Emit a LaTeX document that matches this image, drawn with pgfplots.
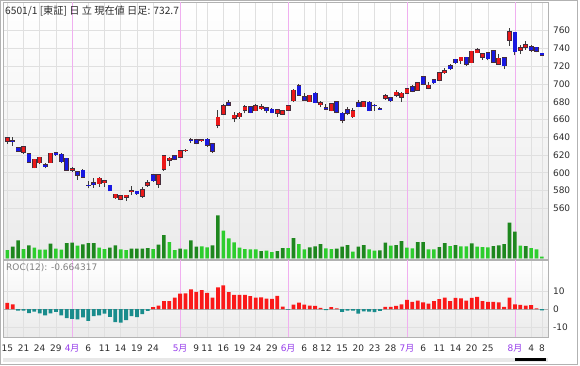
\documentclass[border=0pt]{standalone}
\usepackage{pgfplots}
\pgfplotsset{compat=1.18}
\usepackage{pgfplotstable}
\usepackage{fontspec}
\setmainfont{DejaVu Sans}
\newfontfamily\cjk{Noto Sans CJK JP}
\definecolor{redc}{RGB}{235,25,25}
\definecolor{bluec}{RGB}{25,25,225}
\definecolor{outc}{RGB}{70,45,60}
\definecolor{wickc}{RGB}{60,60,60}
\definecolor{vold}{RGB}{30,135,30}
\definecolor{voll}{RGB}{45,205,45}
\definecolor{rocr}{RGB}{250,25,25}
\definecolor{roct}{RGB}{25,140,140}
\definecolor{pinkc}{RGB}{240,175,240}
\definecolor{monc}{RGB}{150,60,235}
\definecolor{gridc}{RGB}{224,224,224}
\definecolor{txtc}{RGB}{45,45,45}

\pgfplotstableread{
i o h l c
0 635.8 640 632.4 639.2
1 636 640 630 635.5
2 628.3 629.4 623.4 624.5
3 623 630 621.5 629
4 621.2 622 611 612.2
5 605.7 616 605 615.2
6 611.4 618 610 617.4
7 608.8 611 605 606.9
8 611.4 622.5 611 622
9 622.6 623.5 619 620.4
10 620.8 622 611 612.6
11 616.3 617 602 603.2
12 603.2 606.2 601.2 604.6
13 600.9 601.5 592 597.5
14 602.8 604 594 595.3
15 586 591 582.5 585.8
16 588.8 594 583 586.6
17 587.8 595.5 584 593.8
18 588.9 592 584.5 590.8
19 585.9 586.5 579 579.8
20 572 576.5 571 575.8
21 570.1 575 569 574.2
22 572.7 575.5 568 574.6
23 579.2 585 575.5 579.5
24 579.2 580 575.5 576.6
25 573.9 583.5 572 580.6
26 585.9 592 584.5 588.5
27 597.5 598.5 590 591.1
28 587.4 599 583 597.9
29 604 620 602 619
30 614 617.5 608 616.3
31 619 620 614 615.2
32 617.4 625.5 616.5 624.5
33 624.8 627 623.5 625.3
34 636.9 639 633.5 636.3
35 637.3 638.5 632 633.5
36 636.4 638 635 636.9
37 637.7 639 629 631
38 632.4 633 622 624.5
39 653.8 670.7 650 662.5
40 666.2 677 665 675.6
41 679 681.5 675 676
42 661.3 668.5 657 664.7
43 663.2 668.5 661 667
44 670.7 676 667 674.5
45 674.1 675 667 667.7
46 670 677 669 675.6
47 672.2 677 670.5 674.5
48 673 674 667.5 670
49 671.5 672.5 667 667.7
50 667 671.5 663 670.7
51 666.2 670 665 669.6
52 670.7 676 670 675.2
53 681.2 694 680 692.9
54 698.1 699.5 686.5 687.3
55 685.7 690 681 681.6
56 680.1 688 679.5 687.3
57 689.5 691 678.5 679
58 676.7 681 674 679
59 673.3 678 670.5 671.8
60 670 679 669 677.5
61 679.7 681 667 668.1
62 667 668 655.5 659.5
63 670.7 674.5 665 667
64 663.2 672.5 662 670
65 679 681.5 674 674.5
66 674.5 680.5 674 679.7
67 679.4 680.5 669 670
68 675.8 677 670 675.4
69 672 673.5 670.5 671.5
70 683.9 688.5 682 686.8
71 684.2 685.5 680 681.2
72 687.6 693 685 690.6
73 685 690.5 680 689.5
74 689.5 695 689 694.3
75 696.9 698.5 690.5 691.8
76 693.2 702.5 692.5 701.4
77 708.2 709.5 699.5 700
78 695.1 702.5 694 698.5
79 704.5 705.5 700 701.4
80 704.5 713.5 703 712.7
81 712.7 718.5 711.5 715
82 720.3 723 715.5 717.2
83 727.8 728.5 723 724
84 726.2 730.7 722.5 730
85 730 730.7 720.5 722.5
86 724 737.5 723.5 736.8
87 735.3 740 734.5 738.3
88 730 735 727.5 733.8
89 735.3 736.5 726.5 728.5
90 737.5 738 723.5 724.8
91 722.5 733.5 721.8 729
92 729.3 730.4 716.8 720.6
93 749.5 762.7 742.8 758.9
94 758.2 759 732.3 736.4
95 738.3 743.5 733.7 740.9
96 741.3 748.3 738.3 744.2
97 742 743.5 736 738.3
98 741.3 742 735.5 736.8
99 734.5 735 732.3 732.7
}\candles

\pgfplotstableread{
i v d r
0 8.3 0 3.5
1 11.6 1 2.6
2 18 1 -0.7
3 9.3 0 -0.7
4 13 1 -2.1
5 10.6 0 -1.3
6 8.6 0 -2.3
7 8.6 0 -3.4
8 14.6 1 -2.2
9 9.6 0 -1.4
10 8.6 0 -3.3
11 15.3 1 -4.9
12 15.6 1 -5.3
13 12.6 0 -5.5
14 14 1 -4.4
15 15.3 1 -6.3
16 15.3 1 -3.7
17 10.6 0 -3.4
18 9.3 0 -2.4
19 10.6 1 -4.1
20 13 1 -7.1
21 9 0 -7.3
22 8.3 0 -6.0
23 9.6 1 -3.8
24 9.6 1 -4.3
25 9.6 1 -2.7
26 10.3 1 -0.9
27 9.3 0 1.1
28 13.6 1 2.0
29 23.3 1 4.5
30 16.3 0 4.5
31 8.3 0 6.4
32 9.6 1 8.5
33 9 0 8.7
34 18 1 10.9
35 11.6 1 9.5
36 12 0 10.4
37 11 0 8.9
38 13 1 6.4
39 43 1 12.0
40 27.6 0 13.1
41 20 0 9.3
42 16 0 7.8
43 10.6 0 7.9
44 9.3 0 7.8
45 9 0 7.1
46 9 0 6.4
47 7.3 1 6.5
48 7.6 0 5.8
49 6.3 0 5.7
50 7.3 1 7.3
51 10.3 1 1.4
52 10.3 0 -0.2
53 20.3 1 2.5
54 14.3 0 3.6
55 9 0 2.5
56 11 1 2.0
57 12 1 1.8
58 14.3 1 0.7
59 10 0 -0.5
60 9.3 0 1.1
61 9.6 1 0.5
62 11.7 1 -1.5
63 13.3 1 -0.7
64 6.7 0 -0.7
65 11.7 1 -2.4
66 13.3 1 -1.1
67 9 0 -1.3
68 7.7 0 -1.6
69 8 1 -0.9
70 15.7 1 1.3
71 12.7 0 1.3
72 13.3 1 1.8
73 17.3 1 2.7
74 10.7 0 5.1
75 10 0 4.0
76 16.3 1 4.7
77 16.3 1 3.8
78 9 0 3.1
79 9 0 4.5
80 11.3 1 5.5
81 15.3 1 6.4
82 12.3 0 4.5
83 13.3 1 6.2
84 12 0 6.0
85 12 0 4.7
86 15 1 6.2
87 11.7 0 6.7
88 11.3 0 4.5
89 11 0 4.0
90 12.3 1 4.0
91 13 1 3.8
92 14.3 1 1.3
93 35.7 1 6.4
94 26.7 1 2.7
95 12.7 0 2.4
96 12.3 1 2.0
97 10.3 0 2.2
98 9 0 0.5
99 1.7 0 -0.66
}\voltab

\pgfplotsset{
  panel/.style={
    scale only axis, anchor=south west, width=545bp,
    xmin=-0.8, xmax=100.13,
    major tick length=0pt,
    axis line style={black!30},
    grid=major, grid style={gridc, line width=0.6bp},
    xtick={0,3,6,9,15,18,21,24,27,35,37,40,43,46,49,55,57,59,62,65,68,71,77,80,83,86,89,97,99},
    extra x ticks={12,32,52,74,94},
    extra x tick style={grid style={pinkc, line width=0.8bp}},
    yticklabel pos=right,
    tick label style={font=\fontsize{9bp}{10bp}\selectfont, text=txtc},
    yticklabel style={anchor=west, xshift=1.5bp},
    /pgf/number format/assume math mode=true,
  },
}

\begin{document}
\begin{tikzpicture}[x=1bp,y=1bp]
\path[use as bounding box] (0,0) rectangle (580,365);
\fill[white] (0,0) rectangle (580,365);

% price panel
\begin{axis}[panel, at={(3bp,106bp)}, height=257bp,
  ymin=502.9, ymax=792.3,
  axis background/.style={top color=white, bottom color=black!8},
  ytick={560,580,...,760},
  xticklabels={}, extra x tick labels={},
]
\addplot[quiver={u=0,v={\thisrow{h}-\thisrow{l}}}, draw=wickc, line width=0.9bp, mark=none]
  table[x=i, y=l]{\candles};
\addplot[quiver={u=0,v={abs(\thisrow{c}-\thisrow{o})+1.3}}, draw=outc, line width=4.8bp, mark=none]
  table[x=i, y expr={min(\thisrow{o},\thisrow{c})-0.65}]{\candles};
\addplot[quiver={u=0,v={max(\thisrow{c}-\thisrow{o},0)}}, draw=redc, line width=3.4bp, mark=none]
  table[x=i, y=o]{\candles};
\addplot[quiver={u=0,v={max(\thisrow{o}-\thisrow{c},0)}}, draw=bluec, line width=3.4bp, mark=none]
  table[x=i, y=c]{\candles};
\end{axis}

% volume overlay
\begin{axis}[scale only axis, anchor=south west, at={(3bp,106bp)}, width=545bp, height=257bp,
  xmin=-0.8, xmax=100.13, ymin=-0.7, ymax=256.3, hide axis]
\addplot[ybar, bar width=3.6bp, bar shift=0pt, fill=vold, draw=none]
  table[x=i, y expr={\thisrow{d}*\thisrow{v}}]{\voltab};
\addplot[ybar, bar width=3.6bp, bar shift=0pt, fill=voll, draw=none]
  table[x=i, y expr={(1-\thisrow{d})*\thisrow{v}}]{\voltab};
\end{axis}

% ROC panel
\begin{axis}[panel, at={(3bp,28.3bp)}, height=76.7bp,
  ymin=-15, ymax=26.9,
  axis background/.style={top color=white, middle color=white, bottom color=black!8},
  ytick={-10,0,10}, yticklabels={-10,0,10},
  xticklabels={15,21,24,29,6,11,14,19,24,9,11,16,19,24,29,6,8,12,15,20,23,28,6,11,14,20,25,4,8},
  extra x tick labels={{\color{monc}4{\cjk 月}},{\color{monc}5{\cjk 月}},{\color{monc}6{\cjk 月}},{\color{monc}7{\cjk 月}},{\color{monc}8{\cjk 月}}},
  xticklabel style={anchor=base, yshift=-15bp},
]
\draw[black!30, line width=0.6bp] (axis cs:-0.8,0) -- (axis cs:100.13,0);
\addplot[ybar, bar width=3.8bp, bar shift=0pt, fill=rocr, draw=none]
  table[x=i, y expr={max(\thisrow{r},0)}]{\voltab};
\addplot[ybar, bar width=3.8bp, bar shift=0pt, fill=roct, draw=none]
  table[x=i, y expr={min(\thisrow{r},0)}]{\voltab};
\end{axis}

% texts
\node[anchor=west, inner sep=0pt, text=txtc, font=\cjk\fontsize{10.2bp}{12bp}\selectfont] at (5,354) {6501/1 [東証] 日 立 現在値 日足: 732.7};
\node[anchor=west, inner sep=0pt, text=black!50, font=\fontsize{9bp}{11bp}\selectfont] at (6,97.5) {ROC(12): -0.664317};

% scrollbar and frame
\fill[black!9] (3,3) rectangle (548,7);
\fill[black] (515,4.3) rectangle (546,6.7);
\draw[black!30, line width=0.8bp] (0.5,1) rectangle (577.5,364.5);
\end{tikzpicture}
\end{document}
